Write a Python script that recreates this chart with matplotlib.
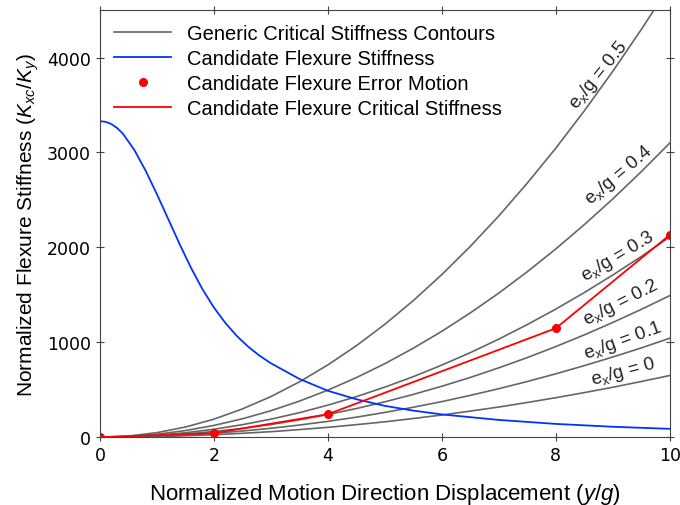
import matplotlib.pyplot as plt
import numpy as np

plt.rcParams['font.family'] = ['Liberation Sans', 'DejaVu Sans']
plt.rcParams['mathtext.fontset'] = 'custom'
plt.rcParams['mathtext.rm'] = 'Liberation Sans'
plt.rcParams['mathtext.it'] = 'Liberation Sans:italic'

# displacement samples for the contour curves
y_g = [0, 0.5, 1, 1.5, 2, 2.5, 3, 3.5, 4, 4.5, 5, 5.5, 6, 6.5, 7, 7.5, 8, 8.5, 9, 9.5, 10]
ex_ratios = ["0", "0.1", "0.2", "0.3", "0.4", "0.5"]
contours = [
    [0, 2, 7, 15, 26, 41, 58, 80, 104, 132, 162, 197, 234, 275, 318, 366, 416, 470, 526, 587, 650],
    [0, 3, 10, 23, 42, 65, 94, 128, 167, 211, 261, 316, 375, 441, 511, 587, 668, 754, 845, 941, 1043],
    [0, 4, 15, 34, 60, 93, 134, 183, 239, 302, 373, 451, 537, 630, 731, 839, 955, 1078, 1209, 1347, 1492],
    [0, 5, 21, 47, 84, 132, 190, 258, 338, 427, 528, 638, 760, 891, 1034, 1187, 1350, 1524, 1709, 1904, 2110],
    [0, 8, 31, 70, 124, 194, 279, 380, 496, 628, 775, 938, 1116, 1310, 1519, 1744, 1984, 2240, 2511, 2798, 3100],
    [0, 12, 48, 107, 190, 298, 428, 583, 762, 964, 1190, 1440, 1714, 2011, 2332, 2678, 3046, 3439, 3856, 4296, 4760],
]

# candidate flexure stiffness
flex_x = [0, 0.1, 0.2, 0.3, 0.4, 0.6, 0.8, 1.0, 1.2, 1.4, 1.6, 1.8, 2.0, 2.2, 2.4, 2.6, 2.8, 3.0,
          3.5, 4, 4.5, 5, 5.5, 6, 7, 8, 9, 10]
flex_k = [3330, 3323, 3300, 3258, 3200, 3030, 2810, 2560, 2296, 2032, 1782, 1558, 1366, 1204, 1068, 954, 859, 779,
          614, 489, 400, 330, 280, 240, 182, 140, 110, 88]

# error motion / critical stiffness
err_x = [0, 2, 4, 8, 10]
err_k = [0, 42, 242, 1148, 2132]

# label placement for each contour
lab_x = [9.18, 9.18, 9.14, 9.09, 9.1, 8.75]
lab_y = [690, 1022, 1427, 1910, 2764, 3818]
lab_rot = [15, 20, 27, 31, 40, 51]

fig = plt.figure(figsize=(6.8, 5.06), dpi=100)
ax = fig.add_axes([0.147, 0.134, 0.838, 0.844])

for i, c in enumerate(contours):
    ax.plot(y_g, c, color='#666666', lw=1.2,
            label='Generic Critical Stiffness Contours' if i == 0 else None)
    ax.text(lab_x[i], lab_y[i], 'e$_\\mathregular{x}$/g = ' + ex_ratios[i],
            rotation=lab_rot[i], ha='center', va='center', fontsize=13.5, color='#222222')

ax.plot(flex_x, flex_k, color='#0033ff', lw=1.3, label='Candidate Flexure Stiffness')
ax.plot(err_x, err_k, 'o', color='red', ms=5.5, label='Candidate Flexure Error Motion')
ax.plot(err_x, err_k, color='red', lw=1.3, label='Candidate Flexure Critical Stiffness')

ax.set_xlim(0, 10)
ax.set_ylim(0, 4500)
ax.set_xticks([0, 2, 4, 6, 8, 10])
ax.set_yticks([0, 1000, 2000, 3000, 4000])
for lbl in ax.get_xticklabels() + ax.get_yticklabels():
    lbl.set_family('DejaVu Sans')
    lbl.set_fontsize(12.5)
ax.tick_params(direction='inout', length=6, color='#444444', top=True, right=True)
for s in ax.spines.values():
    s.set_color('#444444')

ax.set_xlabel('Normalized Motion Direction Displacement ($\\mathit{y/g}$)', fontsize=16, labelpad=12)
ax.set_ylabel('Normalized Flexure Stiffness ($K_{xc}/K_y$)', fontsize=15, labelpad=4)

ax.legend(loc='upper left', bbox_to_anchor=(0.0, 1.0), frameon=False, fontsize=14.5,
          handlelength=2.85, handletextpad=0.75, labelspacing=0.3, borderaxespad=0.3)

fig.savefig('out.png', dpi=100)
